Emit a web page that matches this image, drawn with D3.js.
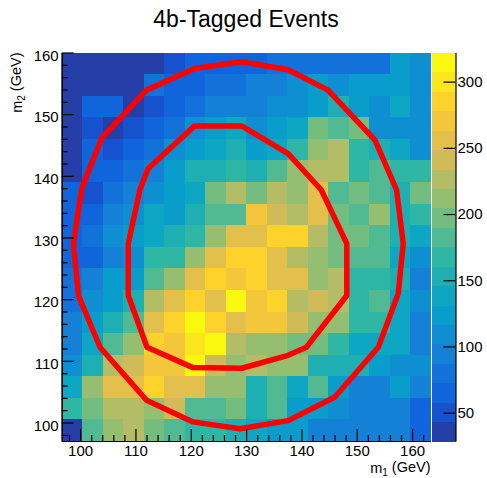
<!DOCTYPE html>
<html>
<head>
<meta charset="utf-8">
<script src="https://cdn.jsdelivr.net/npm/d3@7"></script>
<style>
  body { margin: 0; background: #fff; }
  text { font-family: "Liberation Sans", Arial, Helvetica, sans-serif; }
</style>
</head>
<body>
<div id="chart"></div>
<script>
var W = 487, H = 478;

// bin edges (GeV)
var m1Edges = [96.67, 100.37, 104.07, 107.78, 111.48, 115.19, 118.89, 122.59, 126.30, 130.00,
               133.70, 137.41, 141.11, 144.81, 148.52, 152.22, 155.93, 159.63, 163.33];
var m2Edges = [97, 100.5, 104, 107.5, 111, 114.5, 118, 121.5, 125, 128.5,
               132, 135.5, 139, 142.5, 146, 149.5, 153, 156.5, 160];

// event counts, one row per m2 bin, first row = top (m2 156.5-160)
var counts = [
  [34, 31, 33, 36, 38, 52, 63, 66, 63, 64, 78, 80, 82, 79, 81, 78, 122, 110],
  [35, 32, 36, 38, 80, 64, 66, 79, 82, 94, 96, 108, 122, 110, 124, 125, 120, 109],
  [33, 65, 63, 40, 52, 66, 80, 94, 96, 95, 109, 111, 124, 153, 123, 108, 138, 110],
  [36, 50, 41, 52, 65, 80, 109, 124, 139, 110, 125, 140, 197, 183, 196, 108, 110, 107],
  [37, 64, 51, 66, 81, 110, 125, 138, 152, 124, 139, 168, 212, 227, 167, 153, 140, 109],
  [40, 66, 64, 80, 95, 124, 153, 155, 168, 154, 183, 212, 226, 228, 169, 182, 167, 168],
  [64, 52, 81, 95, 109, 123, 139, 197, 227, 198, 226, 211, 256, 183, 196, 182, 153, 197],
  [66, 63, 94, 110, 139, 124, 153, 183, 184, 271, 241, 227, 256, 197, 183, 212, 152, 168],
  [65, 80, 109, 124, 138, 153, 168, 212, 256, 257, 285, 286, 227, 198, 196, 183, 154, 139],
  [63, 66, 95, 109, 168, 167, 212, 256, 285, 286, 256, 227, 212, 197, 183, 182, 139, 110],
  [80, 95, 124, 123, 183, 212, 257, 285, 271, 284, 256, 255, 212, 227, 168, 167, 153, 94],
  [81, 109, 124, 153, 227, 256, 285, 256, 322, 271, 286, 227, 241, 226, 168, 183, 139, 109],
  [95, 124, 153, 183, 256, 285, 315, 286, 257, 271, 270, 241, 212, 211, 168, 167, 139, 95],
  [94, 139, 183, 212, 285, 271, 300, 316, 227, 212, 211, 197, 196, 168, 139, 138, 140, 96],
  [109, 153, 227, 241, 271, 270, 314, 241, 212, 227, 212, 211, 153, 152, 154, 124, 110, 108],
  [140, 212, 256, 255, 285, 256, 257, 212, 211, 153, 183, 139, 182, 124, 95, 94, 123, 95],
  [168, 190, 227, 226, 212, 241, 183, 182, 197, 153, 183, 124, 123, 109, 95, 94, 96, 65],
  [29, 183, 212, 227, 197, 183, 168, 167, 153, 139, 124, 123, 95, 94, 96, 95, 94, 64]
];

// contour outlines (m1, m2)
var outerM1 = [129.2, 137.6, 144.8, 153.3, 157.2, 158.4, 157.5, 153.9, 146.0, 137.6,
               128.9, 120.4, 112.0, 103.6, 99.7, 98.8, 100.3, 103.9, 112.0, 120.7];
var outerM2 = [158.5, 157.2, 153.9, 145.8, 137.7, 129.0, 120.9, 112.2, 104.1, 100.3,
               99.0, 100.1, 103.6, 112.2, 120.6, 129.0, 138.0, 146.1, 153.9, 157.4];
var innerM1 = [120.7, 129.2, 137.6, 143.6, 148.2, 148.2, 140.9, 137.6, 129.2, 120.4,
               112.1, 108.7, 108.7, 110.8, 112.3];
var innerM2 = [148.1, 148.1, 143.6, 137.7, 129.0, 120.6, 112.2, 110.9, 108.8, 108.9,
               112.2, 120.6, 129.0, 137.7, 141.2];

var m1Ticks = [100, 110, 120, 130, 140, 150, 160];
var m2Ticks = [100, 110, 120, 130, 140, 150, 160];
var zTicks = [50, 100, 150, 200, 250, 300];
var zLimits = [28.6, 322];
var nLevels = 20;

// ROOT kBird palette
var birdStops = [0.0000, 0.1250, 0.2500, 0.3750, 0.5000, 0.6250, 0.7500, 0.8750, 1.0000];
var birdRed   = [0.2082, 0.0592, 0.0780, 0.0232, 0.1802, 0.5301, 0.8186, 0.9956, 0.9764];
var birdGreen = [0.1664, 0.3599, 0.5041, 0.6419, 0.7178, 0.7492, 0.7328, 0.7862, 0.9832];
var birdBlue  = [0.5293, 0.8684, 0.8385, 0.7914, 0.6425, 0.4662, 0.3499, 0.1968, 0.0539];

var palette = [];
for (var g = 1; g < birdStops.length; g++) {
  var n = Math.floor(255 * birdStops[g]) - Math.floor(255 * birdStops[g - 1]);
  for (var c = 0; c < n; c++) {
    palette.push(d3.rgb(
      255 * (birdRed[g - 1] + c * (birdRed[g] - birdRed[g - 1]) / n),
      255 * (birdGreen[g - 1] + c * (birdGreen[g] - birdGreen[g - 1]) / n),
      255 * (birdBlue[g - 1] + c * (birdBlue[g] - birdBlue[g - 1]) / n)).toString());
  }
}

var levelColor = function(i) {
  return palette[Math.floor((i + 0.99) * palette.length / nLevels)];
};
var valueColor = function(v) {
  var lvl = Math.floor(0.01 + (v - zLimits[0]) * nLevels / (zLimits[1] - zLimits[0]));
  lvl = Math.max(0, Math.min(nLevels - 1, lvl));
  return levelColor(lvl);
};

var plot = {left: 61.7, right: 430.5, top: 52.5, bottom: 441};

var x = d3.scaleLinear().domain([m1Edges[0], m1Edges[m1Edges.length - 1]]).range([plot.left, plot.right]);
var y = d3.scaleLinear().domain([m2Edges[0], m2Edges[m2Edges.length - 1]]).range([plot.bottom, plot.top]);
var z = d3.scaleLinear().domain(zLimits).range([plot.bottom, plot.top]);

var svg = d3.select("#chart").append("svg")
    .attr("width", W)
    .attr("height", H);
svg.append("rect").attr("width", W).attr("height", H).attr("fill", "#fff");

// cells
var cells = [];
counts.forEach(function(row, r) {
  var j = counts.length - 1 - r;
  row.forEach(function(v, i) {
    cells.push({i: i, j: j, v: v});
  });
});

svg.append("g")
  .selectAll("rect")
  .data(cells)
  .enter().append("rect")
    .attr("x", function(d) { return Math.round(x(m1Edges[d.i])); })
    .attr("y", function(d) { return Math.round(y(m2Edges[d.j + 1])); })
    .attr("width", function(d) { return Math.round(x(m1Edges[d.i + 1])) - Math.round(x(m1Edges[d.i])); })
    .attr("height", function(d) { return Math.round(y(m2Edges[d.j])) - Math.round(y(m2Edges[d.j + 1])); })
    .attr("fill", function(d) { return valueColor(d.v); })
    .attr("shape-rendering", "crispEdges");

// contours
var line = d3.line()
    .x(function(d) { return x(d[0]); })
    .y(function(d) { return y(d[1]); })
    .curve(d3.curveLinearClosed);

[[outerM1, outerM2], [innerM1, innerM2]].forEach(function(c) {
  svg.append("path")
    .datum(c[0].map(function(m, k) { return [m, c[1][k]]; }))
    .attr("d", line)
    .attr("fill", "none")
    .attr("stroke", "#ff0000")
    .attr("stroke-width", 5.5)
    .attr("stroke-linejoin", "round");
});

// axes
var minorOf = function(lo, hi, majors) {
  return d3.range(lo, hi + 0.1, 2).filter(function(t) { return majors.indexOf(t) < 0; });
};

var styleAxis = function(g) {
  g.selectAll(".domain").attr("stroke", "#000").attr("stroke-width", 1.2);
  g.selectAll(".tick line").attr("stroke", "#000").attr("stroke-width", 1.2);
  g.selectAll("text").attr("font-size", "15px").attr("fill", "#000")
    .attr("font-family", "'Liberation Sans', Arial, sans-serif");
};

var gx = svg.append("g")
    .attr("transform", "translate(0," + plot.bottom + ")")
    .call(d3.axisBottom(x).tickValues(m1Ticks).tickSize(-12).tickSizeOuter(0).tickPadding(4));
gx.append("g").call(d3.axisBottom(x).tickValues(minorOf(98, 162, m1Ticks)).tickSize(-6).tickFormat("").tickSizeOuter(0));
styleAxis(gx);

var gy = svg.append("g")
    .attr("transform", "translate(" + plot.left + ",0)")
    .call(d3.axisLeft(y).tickValues(m2Ticks).tickSize(-12).tickSizeOuter(0).tickPadding(3));
gy.append("g").call(d3.axisLeft(y).tickValues(minorOf(98, 160, m2Ticks)).tickSize(-6).tickFormat("").tickSizeOuter(0));
styleAxis(gy);
gy.selectAll("text").attr("dy", "0.5em");

// colour bar
var bar = {left: 432, right: 455.5};
var levels = d3.range(nLevels);
var dz = (zLimits[1] - zLimits[0]) / nLevels;
svg.append("g")
  .selectAll("rect")
  .data(levels)
  .enter().append("rect")
    .attr("x", bar.left)
    .attr("width", bar.right - bar.left)
    .attr("y", function(i) { return z(zLimits[0] + (i + 1) * dz); })
    .attr("height", function(i) { return z(zLimits[0] + i * dz) - z(zLimits[0] + (i + 1) * dz) + 0.5; })
    .attr("fill", function(i) { return levelColor(i); })
    .attr("shape-rendering", "crispEdges");

var gz = svg.append("g")
    .attr("transform", "translate(" + bar.right + ",0)")
    .call(d3.axisRight(z).tickValues(zTicks).tickSize(-12).tickSizeOuter(0).tickPadding(2));
styleAxis(gz);

// titles
svg.append("text")
    .attr("x", 246)
    .attr("y", 27)
    .attr("text-anchor", "middle")
    .attr("font-size", "23px")
    .text("4b-Tagged Events");

var xt = svg.append("text")
    .attr("x", plot.right)
    .attr("y", 473)
    .attr("text-anchor", "end")
    .attr("font-size", "14.5px");
xt.append("tspan").text("m");
xt.append("tspan").attr("font-size", "10px").attr("dy", "0.25em").text("1");
xt.append("tspan").attr("dy", "-0.25em").text(" (GeV)");

var yt = svg.append("text")
    .attr("transform", "translate(22," + plot.top + ") rotate(-90)")
    .attr("text-anchor", "end")
    .attr("font-size", "14.5px");
yt.append("tspan").text("m");
yt.append("tspan").attr("font-size", "10px").attr("dy", "0.25em").text("2");
yt.append("tspan").attr("dy", "-0.25em").text(" (GeV)");
</script>
</body>
</html>
